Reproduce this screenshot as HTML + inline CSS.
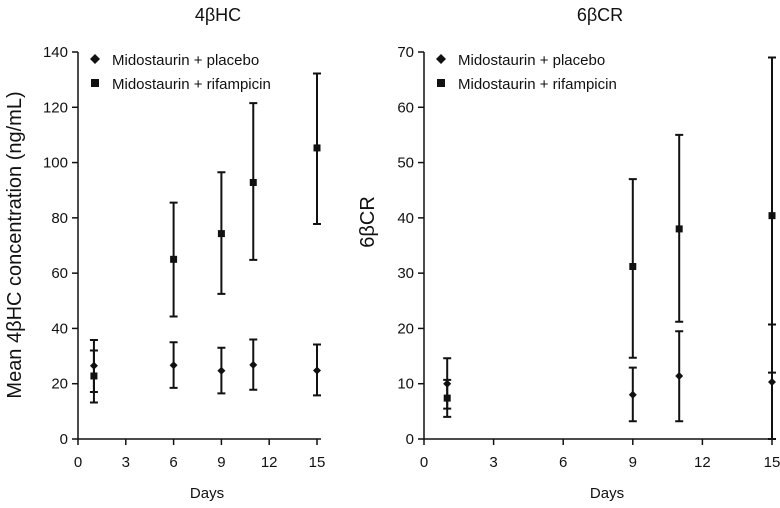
<!DOCTYPE html>
<html><head><meta charset="utf-8"><style>
body{margin:0;background:#fff}
svg text{font-family:"Liberation Sans",sans-serif;fill:#111}
</style></head><body>
<svg id="c" width="780" height="503"></svg>
<script>
const days=[1,6,9,11,15];
const leftPlacebo=[26.5,26.7,24.7,26.8,24.8];
const leftPlaceboLo=[17,18.5,16.5,17.8,15.8];
const leftPlaceboHi=[32,35,33,36,34.2];
const leftRif=[22.8,65,74.3,92.8,105.3];
const leftRifLo=[13.2,44.3,52.5,64.8,77.8];
const leftRifHi=[35.8,85.5,96.5,121.5,132.2];
const rightDays=[1,9,11,15];
const rightPlacebo=[10,8,11.4,10.3];
const rightPlaceboLo=[5.5,3.2,3.2,0];
const rightPlaceboHi=[14.6,12.9,19.5,20.7];
const rightRif=[7.4,31.2,38,40.4];
const rightRifLo=[4,14.7,21.2,12];
const rightRifHi=[10.7,47,55,69];
const xTicks=[0,3,6,9,12,15];
const leftYTicks=[0,20,40,60,80,100,120,140];
const rightYTicks=[0,10,20,30,40,50,60,70];
const NS='http://www.w3.org/2000/svg';
const svg=document.getElementById('c');
function mk(t,a,p){const e=document.createElementNS(NS,t);for(const k in a)e.setAttribute(k,a[k]);(p||svg).appendChild(e);return e;}
function panel(o){
  const g=mk('g',{});
  
  
  const X=v=>o.x0+(v/15)*(o.x1-o.x0);
  const Y=v=>439-(v/o.ymax)*(439-52);
  const ax=mk('path',{d:`M${o.x0},52V439H${o.x1+4}`,stroke:'#111','stroke-width':1.5,fill:'none'},g);
  
  
  xTicks.forEach(t=>{mk('line',{x1:X(t),x2:X(t),y1:439,y2:445,stroke:'#111','stroke-width':1.5},g);
    const tx=mk('text',{x:X(t),y:467,'text-anchor':'middle','font-size':15},g);tx.textContent=t;
    
    });
  o.yTicks.forEach(t=>{mk('line',{x1:o.x0-6,x2:o.x0,y1:Y(t),y2:Y(t),stroke:'#111','stroke-width':1.5},g);
    const tx=mk('text',{x:o.x0-10,y:Y(t)+5,'text-anchor':'end','font-size':15},g);tx.textContent=t;
    
    });
  const ti=mk('text',{x:o.tx,y:21,'text-anchor':'middle','font-size':18},g);ti.textContent=o.title;
  
  
  const xl=mk('text',{x:o.xl,y:498,'text-anchor':'middle','font-size':15},g);xl.textContent='Days';
  
  
  const yl=mk('text',{x:0,y:0,'text-anchor':'middle','font-size':20,transform:`translate(${o.ylx},${o.yly}) rotate(-90)`},g);yl.textContent=o.ylabel;
  
  
  function series(ds,m,lo,hi,shape){
    ds.forEach((d,i)=>{const x=X(d);
      const eb=mk('path',{d:`M${x},${Y(lo[i])}V${Y(hi[i])}M${x-4},${Y(lo[i])}h8M${x-4},${Y(hi[i])}h8`,stroke:'#111','stroke-width':2,fill:'none'},g);
      
      
      const y=Y(m[i]);let p;
      if(shape==='d')p=mk('path',{d:`M${x},${y-4}l4,4l-4,4l-4,-4z`,fill:'#111'},g);
      else p=mk('rect',{x:x-3.5,y:y-3.5,width:7,height:7,fill:'#111'},g);
      
      });
  }
  series(o.days,o.p,o.plo,o.phi,'d');
  series(o.days,o.r,o.rlo,o.rhi,'s');
  const lx=o.x0+17;
  mk('path',{d:`M${lx},54l5,5l-5,5l-5,-5z`,fill:'#111'},g);
  mk('rect',{x:lx-4,y:79,width:8,height:8,fill:'#111'},g);
  const l1=mk('text',{x:lx+17,y:65,'font-size':15},g);l1.textContent='Midostaurin + placebo';
  
  
  const l2=mk('text',{x:lx+17,y:89,'font-size':15},g);l2.textContent='Midostaurin + rifampicin';
  
  
}
panel({name:'panel-4bhc',x0:78,x1:317,ymax:140,yTicks:leftYTicks,title:'4βHC',tx:218,xl:207,ylabel:'Mean 4βHC concentration (ng/mL)',ylx:21,yly:245,
  days:days,p:leftPlacebo,plo:leftPlaceboLo,phi:leftPlaceboHi,r:leftRif,rlo:leftRifLo,rhi:leftRifHi});
panel({name:'panel-6bcr',x0:424,x1:772,ymax:70,yTicks:rightYTicks,title:'6βCR',tx:600,xl:607,ylabel:'6βCR',ylx:374,yly:222,
  days:rightDays,p:rightPlacebo,plo:rightPlaceboLo,phi:rightPlaceboHi,r:rightRif,rlo:rightRifLo,rhi:rightRifHi});
</script>
</body></html>
